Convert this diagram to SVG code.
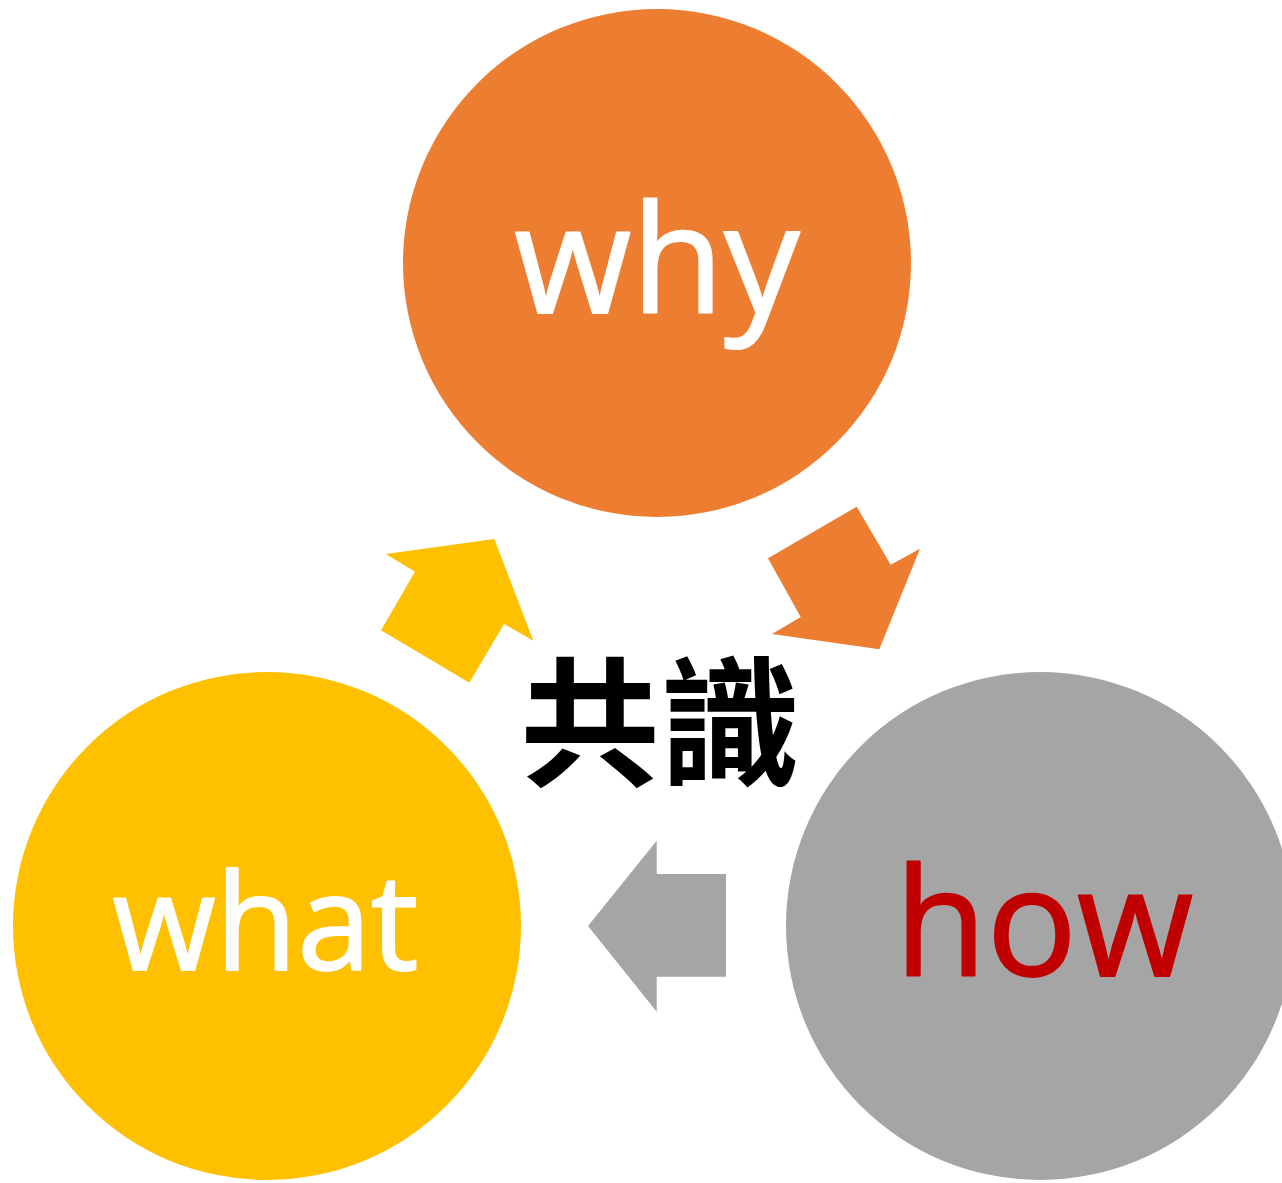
<svg xmlns="http://www.w3.org/2000/svg" width="1282" height="1183" viewBox="0 0 1282 1183">
<style>
.lbl{font-family:"Open Sans","Noto Sans",sans-serif;text-anchor:middle;stroke-width:2;stroke-linejoin:round}
.cn{font-family:"Noto Sans CJK TC","Noto Sans CJK SC",sans-serif;font-weight:bold;text-anchor:middle;fill:#000}
</style>
<rect width="1282" height="1183" fill="#fff"/>
<g id="connectors">
<polygon id="arrow-what-why" fill="#FFC000" points="385.7,554 494.3,539 533.3,640.7 504,624 469.3,682.7 381,630.3 415,571.7"/>
<polygon id="arrow-why-how" fill="#ED7D31" points="856.7,506.7 890.7,564.7 920,548.7 879.3,649.3 772,634 800.7,617 768,558.3"/>
<polygon id="arrow-how-what" fill="#A5A5A5" points="656.7,840.7 656.7,874 726,874 726,976.7 656.7,976.7 656.7,1011.7 588,926"/>
</g>
<g id="node-why">
<circle cx="657" cy="263" r="254" fill="#ED7D31"/>
<text class="lbl" x="657" y="313" font-size="151" fill="#fff" stroke="#fff">why</text>
</g>
<g id="node-what">
<circle cx="267" cy="926" r="254" fill="#FFC000"/>
<text class="lbl" x="265.5" y="970" font-size="133" fill="#fff" stroke="#fff">what</text>
</g>
<g id="node-how">
<circle cx="1040" cy="926" r="254" fill="#A5A5A5"/>
<text class="lbl" x="1044" y="976" font-size="150" fill="#C00000" stroke="#C00000">how</text>
</g>
<g id="node-center">
<text class="cn" x="660" y="775" font-size="140">共識</text>
</g>
</svg>
